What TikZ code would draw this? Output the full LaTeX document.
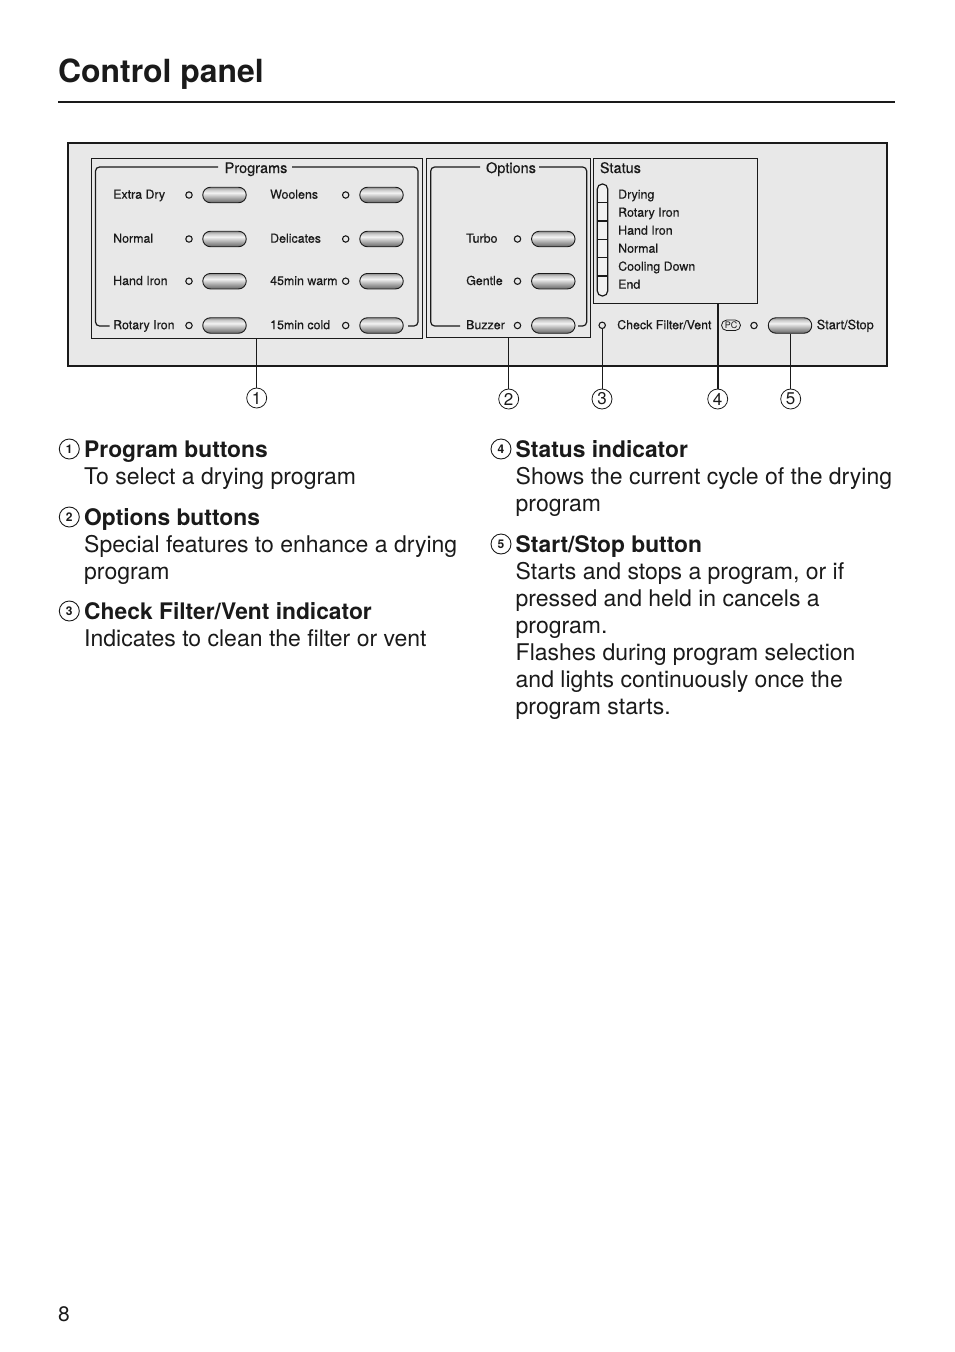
\documentclass[tikz,border=0pt]{standalone}
\usepackage{fontspec}
\setmainfont{TeX Gyre Heros}
\newfontface\panelfont[FakeBold=0.35]{TeX Gyre Heros}
\usetikzlibrary{shapes.misc,calc}
\definecolor{panelgray}{HTML}{E8E8E8}
\definecolor{ink}{HTML}{1A1A1A}
\pgfdeclareverticalshading{btnshade}{100bp}{
  color(0bp)=(black!60);color(25bp)=(black!60);color(40bp)=(black!35);color(57bp)=(black!5);color(68bp)=(black!22);color(75bp)=(black!45);color(100bp)=(black!45)}
\newcommand{\bh}[1]{{\fontsize{22.8}{27}\bfseries\selectfont #1}}
\tikzset{
  panelbox/.style={draw=ink,line width=2pt,fill=panelgray,anchor=north west,inner sep=0pt,outer sep=0pt},
  groupbox/.style={draw=ink,line width=.9pt,anchor=north west,inner sep=0pt,outer sep=0pt},
  bracket/.style={draw=ink,line width=1.2pt,rounded corners=4pt},
  btn/.style={rounded rectangle,draw=ink,line width=.9pt,shading=btnshade,minimum width=43.5pt,minimum height=15.5pt,inner sep=0pt},
  led/.style={circle,draw=ink,line width=1.1pt,minimum size=6.4pt,inner sep=0pt},
  plab/.style={anchor=base west,inner sep=0pt,text=ink,font=\panelfont\fontsize{12.4}{14}\selectfont},
  ptitle/.style={inner sep=0pt,text=ink,font=\panelfont\fontsize{14.5}{16}\selectfont},
  callout/.style={circle,draw=ink,line width=.8pt,minimum size=20pt,inner sep=0pt,text=ink,font=\fontsize{17}{19}\selectfont},
  leader/.style={draw=ink,line width=.9pt},
  numcirc/.style={circle,draw=ink,line width=.9pt,minimum size=20pt,inner sep=0pt,text=ink,font=\fontsize{12}{14}\bfseries\selectfont},
  block/.style={anchor=base west,inner sep=0pt,align=left,text=ink,font=\fontsize{23}{27}\selectfont},
}
\begin{document}
\begin{tikzpicture}[x=1pt,y=-1pt]
\useasboundingbox (0,0) rectangle (954,1352);
% heading
\node[anchor=base west,inner sep=0pt,text=ink,font=\fontsize{31.9}{36}\bfseries\selectfont] (title) at (58,82) {Control panel};
\coordinate (ruleL) at (58,101.5);
\coordinate (ruleR) at (895,101.5);
\draw[ink,line width=2pt] (ruleL) -- (ruleR);
% panel
\node[panelbox,minimum width=819.5pt,minimum height=223pt] (panel) at (67.5,143) {};
\node[groupbox,minimum width=331.5pt,minimum height=179.5pt] (prog) at (91,158.5) {};
\node[groupbox,minimum width=164pt,minimum height=179pt] (opt) at (426.7,158.5) {};
\node[groupbox,minimum width=164.4pt,minimum height=144.8pt] (stat) at (593.3,158.5) {};
% brackets
\draw[bracket] (109.5,326) -- (95.5,326) -- (95.5,167) -- (218,167);
\draw[bracket] (292,167) -- (418,167) -- (418,326) -- (408,326);
\draw[bracket] (460,326) -- (430.7,326) -- (430.7,167) -- (480,167);
\draw[bracket] (539,167) -- (586.7,167) -- (586.7,326) -- (578,326);
\node[ptitle,anchor=base] (tprog) at (256,173) {Programs};
\node[ptitle,anchor=base] (topt) at (511,173) {Options};
\node[ptitle,anchor=base west] (tstat) at (599.7,173) {Status};
% program rows
\node[btn] (b1) at (224.5,195) {}; \node[led] (l1) at (189,195) {}; \node[plab] at (113,198.7) {Extra Dry};
\node[btn] (b2) at (224.5,239) {}; \node[led] (l2) at (189,239) {}; \node[plab] at (113,242.7) {Normal};
\node[btn] (b3) at (224.5,281.2) {}; \node[led] (l3) at (189,281.2) {}; \node[plab] at (113,285) {Hand Iron};
\node[btn] (b4) at (224.5,325.5) {}; \node[led] (l4) at (189,325.5) {}; \node[plab] at (113,329.2) {Rotary Iron};
\node[btn] (b5) at (381.5,195) {}; \node[led] (l5) at (345.7,195) {}; \node[plab] at (270,198.7) {Woolens};
\node[btn] (b6) at (381.5,239) {}; \node[led] (l6) at (345.7,239) {}; \node[plab] at (270,242.7) {Delicates};
\node[btn] (b7) at (381.5,281.2) {}; \node[led] (l7) at (345.7,281.2) {}; \node[plab] at (270,285) {45min warm};
\node[btn] (b8) at (381.5,325.5) {}; \node[led] (l8) at (345.7,325.5) {}; \node[plab] at (270,329.2) {15min cold};
% option rows
\node[btn] (b9) at (553.3,239) {}; \node[led] (l9) at (517.5,239) {}; \node[plab] at (466,242.7) {Turbo};
\node[btn] (b10) at (553.3,281.2) {}; \node[led] (l10) at (517.5,281.2) {}; \node[plab] at (466,285) {Gentle};
\node[btn] (b11) at (553.3,325.5) {}; \node[led] (l11) at (517.5,325.5) {}; \node[plab] at (466,329.2) {Buzzer};
% status strip
\draw[ink,line width=1.2pt,rounded corners=5pt,fill=white!40!panelgray] (597.3,184) rectangle (607.7,296);
\draw[ink,line width=1.1pt] (597.3,202.7) -- (607.7,202.7) (597.3,221) -- (607.7,221) (597.3,239.3) -- (607.7,239.3) (597.3,257.7) -- (607.7,257.7) (597.3,276) -- (607.7,276);
\node[plab] at (618,198.7) {Drying};
\node[plab] at (618,216.7) {Rotary Iron};
\node[plab] at (618,234.7) {Hand Iron};
\node[plab] at (618,252.7) {Normal};
\node[plab] at (618,270.7) {Cooling Down};
\node[plab] at (618,288.7) {End};
% bottom row
\node[led] (lvent) at (602.2,325.3) {};
\node[plab] at (617,329.2) {Check Filter/Vent};
\node[draw=ink,line width=.8pt,rounded rectangle,minimum width=19pt,minimum height=10.5pt,inner sep=0pt,font=\fontsize{9}{10}\selectfont,text=ink] (pc) at (731,325.3) {PC};
\node[led] (lstart) at (754,325.5) {};
\node[btn] (bstart) at (790,325.5) {};
\node[plab,font=\panelfont\fontsize{12.8}{14}\selectfont] at (816.5,329.2) {Start/Stop};
% callouts
\node[callout] (c1) at (256.7,398) {1};
\node[callout] (c2) at (508.7,399) {2};
\node[callout] (c3) at (602,399) {3};
\node[callout] (c4) at (717.7,399) {4};
\node[callout] (c5) at (790.7,399) {5};
\draw[leader] (prog.south -| c1.north) -- (c1.north);
\draw[leader] (opt.south -| c2.north) -- (c2.north);
\draw[leader] (lvent.south -| c3.north) -- (c3.north);
\draw[leader,line width=1.8pt] (stat.south -| c4.north) -- (c4.north);
\draw[leader] (bstart.south -| c5.north) -- (c5.north);
% text
\node[numcirc] (n1) at (69.3,449) {1};
\node[block] (t1) at (84,484) {\bh{Program buttons}\\To select a drying program};
\node[numcirc] (n2) at (69.3,517) {2};
\node[block] (t2) at (84,579) {\bh{Options buttons}\\Special features to enhance a drying\\program};
\node[numcirc] (n3) at (69.3,611) {3};
\node[block] (t3) at (84,646) {\bh{Check Filter/Vent indicator}\\Indicates to clean the filter or vent};
\node[numcirc] (n4) at (501,449) {4};
\node[block] (t4) at (515.5,511) {\bh{Status indicator}\\Shows the current cycle of the drying\\program};
\node[numcirc] (n5) at (501,544) {5};
\node[block] (t5) at (515.5,714) {\bh{Start/Stop button}\\Starts and stops a program, or if\\pressed and held in cancels a\\program.\\Flashes during program selection\\and lights continuously once the\\program starts.};
\node[anchor=base west,inner sep=0pt,text=ink,font=\fontsize{21}{24}\selectfont] (page) at (58,1321) {8};
\end{tikzpicture}
\end{document}
